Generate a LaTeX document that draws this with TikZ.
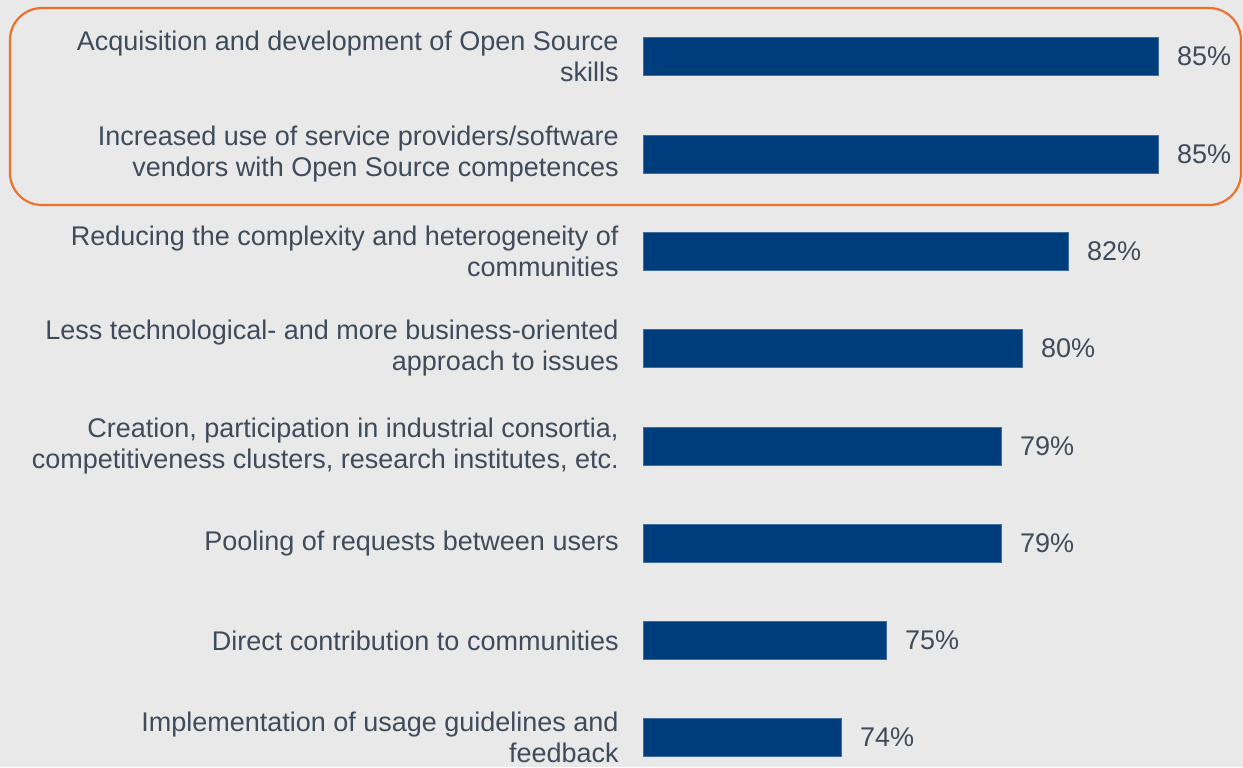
\documentclass[tikz,border=0pt]{standalone}
\usepackage{fontspec}
\setmainfont{Liberation Sans}
\usetikzlibrary{positioning}
\definecolor{bgcol}{HTML}{E9E9E9}
\definecolor{barcol}{HTML}{003D7C}
\definecolor{txtcol}{HTML}{3D4B5B}
\definecolor{boxcol}{HTML}{EE7127}

\begin{document}
\begin{tikzpicture}[x=.5pt, y=-.5pt,
 bar/.style={fill=barcol, draw=barcol!75!white, line width=.4pt, inner sep=0, minimum height=19pt, anchor=west},
 lab/.style={text=txtcol, align=right, anchor=east, inner sep=0, font=\fontsize{13.5}{15.5}\selectfont},
 pct/.style={text=txtcol, inner sep=0, font=\fontsize{13.5}{15.5}\selectfont}]
\fill[bgcol] (0,0) rectangle (1243,767);
% highlight of the two top answers
\draw[boxcol, line width=1.1pt, rounded corners=16pt] (10,8) rectangle (1241,205);
\foreach \i/\yc/\xe/\val/\txt in {
 1/56.5/1158/85/{Acquisition and development of Open Source\\skills},
 2/154.5/1158/85/{Increased use of service providers/software\\vendors with Open Source competences},
 3/251.5/1068/82/{Reducing the complexity and heterogeneity of\\communities},
 4/348.5/1022/80/{Less technological- and more business-oriented\\approach to issues},
 5/446.5/1001/79/{Creation, participation in industrial consortia,\\competitiveness clusters, research institutes, etc.},
 6/543.5/1001/79/{Pooling of requests between users},
 7/640.5/886/75/{Direct contribution to communities},
 8/737.5/841/74/{Implementation of usage guidelines and\\feedback}} {
 \node[bar, minimum width={(\xe-643)*.5pt}] (bar\i) at (643,\yc) {};
 \node[lab] (lab\i) at (619,\yc) {\txt};
 \node[pct, right=9pt of bar\i] (pct\i) {\val\%};
}
\end{tikzpicture}
\end{document}
